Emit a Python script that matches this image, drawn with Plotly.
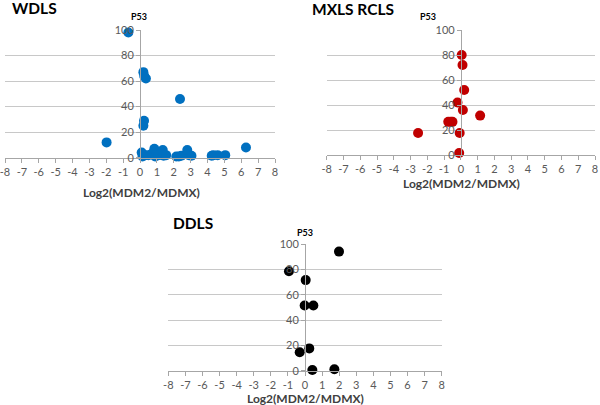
import plotly.graph_objects as go

# WDLS
wdls_x = [-0.69, 0.2, 0.25, 0.35, 2.37, 0.24, 0.2, -1.98, 6.28,
          0.1, 0.15, 0.3, 0.5, 0.7, 0.85, 0.9, 1.0, 1.1, 1.35, 1.4, 1.55,
          2.15, 2.3, 2.45, 2.8, 2.9, 3.05, 4.25, 4.35, 4.6, 5.05]
wdls_y = [98, 67, 64, 62, 46, 29, 25, 12, 8,
          4, 1, 2, 2, 3, 7, 1, 3, 2, 6, 1.5, 2,
          1, 1, 1.5, 6, 2, 1.5, 1.5, 2, 2, 2]

# MXLS RCLS
mxls_x = [0.05, 0.1, 0.2, -0.2, 0.12, 1.15, -0.75, -0.6, -0.5, -2.55, -0.07, -0.1]
mxls_y = [80, 72, 52, 42, 36, 31.5, 26.5, 26.5, 26.5, 17.6, 17.6, 1.6]

# DDLS
ddls_x = [1.99, -0.94, 0.04, -0.02, 0.49, 0.25, -0.31, 0.43, 1.72]
ddls_y = [94, 78.5, 71.5, 51.5, 51.5, 17.6, 14.5, 0.5, 1.2]

x_ticks = list(range(-8, 9))
x_labels = [str(v) for v in x_ticks]  # plain hyphen like Excel

W, H = 600, 405
FONT = "Lato"
GRID = "#c8c8c8"
TICK = "#595959"


def px(x):
    return x / W


def py(y):
    return 1 - y / H


# panel boxes in pixels: (left, right, top, bottom)
panels = [
    ("WDLS", wdls_x, wdls_y, "#0070c0", (5, 275, 30, 157.7)),
    ("MXLS RCLS", mxls_x, mxls_y, "#c00000", (326.7, 595, 30, 155)),
    ("DDLS", ddls_x, ddls_y, "#000000", (168.3, 441.7, 244, 370.7)),
]

fig = go.Figure()
layout = {}
for i, (name, xs, ys, col, box) in enumerate(panels):
    n = "" if i == 0 else str(i + 1)
    fig.add_trace(go.Scatter(
        x=xs, y=ys, mode="markers", cliponaxis=False,
        marker=dict(size=10, color=col),
        xaxis="x" + n, yaxis="y" + n, showlegend=False,
    ))
    l, r, t, b = box
    xd = [px(l), px(r)]
    layout["xaxis" + n] = dict(
        domain=xd, range=[-8, 8], anchor="y" + n,
        tickmode="array", tickvals=x_ticks, ticktext=x_labels,
        showgrid=False, zeroline=False, showline=True, linecolor="#a6a6a6",
        ticks="outside", ticklen=4, tickcolor="#a6a6a6", automargin=False,
        ticklabeloverflow="allow",
        tickfont=dict(size=11, color=TICK, family=FONT), fixedrange=True,
    )
    layout["yaxis" + n] = dict(
        domain=[py(b), py(t)], range=[0, 100], dtick=20,
        anchor="free", position=(xd[0] + xd[1]) / 2,
        showgrid=True, gridcolor=GRID, zeroline=False,
        showline=True, linecolor="#a6a6a6", automargin=False,
        ticks="outside", ticklen=4, tickcolor="#a6a6a6",
        tickfont=dict(size=11, color=TICK, family=FONT), fixedrange=True,
    )

annotations = []
# panel titles
for txt, x, y in [("WDLS", 10, 8), ("MXLS RCLS", 310, 9), ("DDLS", 171, 223)]:
    annotations.append(dict(text="<b>%s</b>" % txt, x=px(x), y=py(y), xref="paper", yref="paper",
                            xanchor="left", yanchor="middle", showarrow=False,
                            font=dict(size=15.5, color="#000000", family=FONT)))
# y axis titles
for x, y in [(139, 17), (428, 16), (305, 232)]:
    annotations.append(dict(text="<b>P53</b>", x=px(x), y=py(y), xref="paper", yref="paper",
                            xanchor="center", yanchor="middle", showarrow=False,
                            font=dict(size=9, color="#000000", family=FONT)))
# x axis titles
for x, y in [(141, 192), (461, 183), (305, 398)]:
    annotations.append(dict(text="<b>Log2(MDM2/MDMX)</b>", x=px(x), y=py(y), xref="paper", yref="paper",
                            xanchor="center", yanchor="middle", showarrow=False,
                            font=dict(size=12, color="#404040", family=FONT)))

fig.update_layout(
    width=W, height=H,
    margin=dict(l=0, r=0, t=0, b=0),
    paper_bgcolor="white", plot_bgcolor="white",
    font=dict(family=FONT),
    annotations=annotations,
    **layout,
)

# drop the default 8px page margin so the figure fills the window
fig.write_html("out.html", config={"displayModeBar": False},
               post_script="document.body.style.margin='0';")
